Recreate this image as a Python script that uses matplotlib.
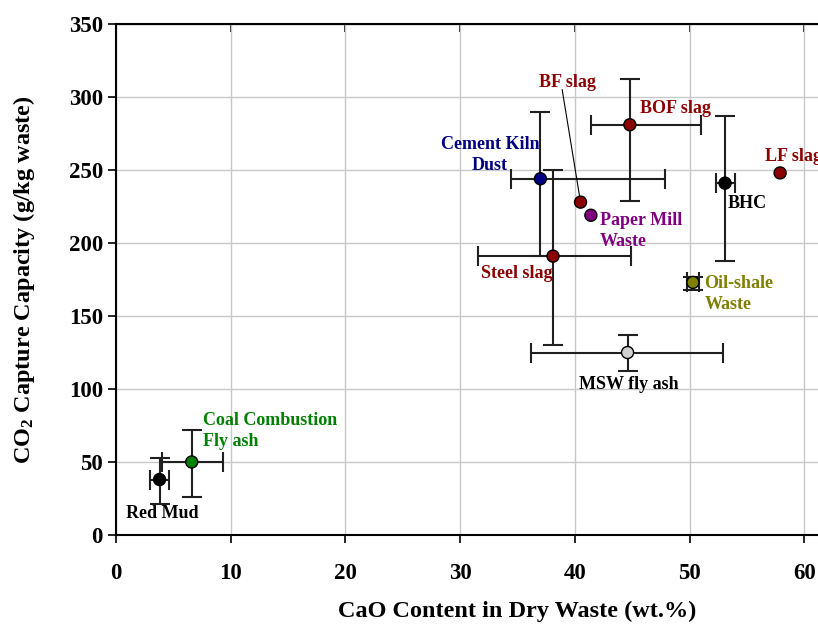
import numpy as np
import matplotlib
matplotlib.use("Agg")
import matplotlib.pyplot as plt

plt.rcParams['font.family'] = ['Liberation Serif', 'DejaVu Serif']
plt.rcParams['font.weight'] = 'bold'
plt.rcParams['mathtext.default'] = 'regular'

# ── data ─────────────────────────────────────────────────────────────────────
names = ["Red Mud", "Coal Combustion Fly ash", "Cement Kiln Dust", "Steel slag",
         "BF slag", "Paper Mill Waste", "BOF slag", "BHC", "LF slag",
         "Oil-shale Waste", "MSW fly ash"]
cao = [3.8, 6.6, 37.0, 38.1, 40.5, 41.4, 44.8, 53.1, 57.9, 50.3, 44.6]
co2 = [38, 50, 244, 191, 228, 219, 281, 241, 248, 173, 125]
xerr_lo = [0.85, 2.6, 2.6, 6.5, 0, 0, 3.4, 0.8, 0, 0.5, 8.4]
xerr_hi = [0.85, 2.7, 10.9, 6.8, 0, 0, 6.2, 0.9, 0, 0.5, 8.3]
yerr_lo = [17, 24, 53, 61, 0, 0, 52, 53, 0, 5, 13]
yerr_hi = [15, 22, 46, 59, 0, 0, 31, 46, 0, 4, 12]
face = ["#000000", "#008000", "#000080", "#8b0000", "#8b0000", "#800080",
        "#8b0000", "#000000", "#8b0000", "#808000", "#d0d0d0"]

labels = ["Red Mud", "Coal Combustion\nFly ash", "Cement Kiln\nDust", "Steel slag",
          "BF slag", "Paper Mill\nWaste", "BOF slag", "BHC", "LF slag",
          "Oil-shale\nWaste", "MSW fly ash"]
label_color = ["black", "#008000", "#000080", "#8b0000", "#8b0000", "#800080",
               "#8b0000", "black", "#8b0000", "#808000", "black"]
label_x = [4.0, 7.6, 32.6, 34.9, 39.4, 42.2, 45.7, 53.3, 56.6, 51.3, 44.7]
label_y = [15, 71, 260, 179, 310, 208, 292, 227, 259, 165, 103]
label_ha = ["center", "left", "center", "center", "center", "left", "left",
            "left", "left", "left", "center"]

fig = plt.figure(figsize=(8.18, 6.26), dpi=100)
# axes runs past the right edge of the picture (the reference is cropped there)
ax = fig.add_axes([116 / 818, 91 / 626, 70 * 11.47 / 818, 511 / 626])

ax.grid(True, color="#c8c8c8", lw=1)
ax.set_axisbelow(True)

cao = np.array(cao)
co2 = np.array(co2)
has_err = (np.array(xerr_hi) + np.array(yerr_hi)) > 0
ax.errorbar(cao[has_err], co2[has_err],
            xerr=[np.array(xerr_lo)[has_err], np.array(xerr_hi)[has_err]],
            yerr=[np.array(yerr_lo)[has_err], np.array(yerr_hi)[has_err]],
            fmt="none", ecolor="#202020", elinewidth=1.5, capsize=7, capthick=1.5,
            zorder=2)
ax.scatter(cao, co2, s=75, c=face, edgecolors="black", linewidths=1, zorder=3)

for i, lab in enumerate(labels):
    ax.text(label_x[i], label_y[i], lab, color=label_color[i], ha=label_ha[i],
            va="center", fontsize=13, fontweight="bold", linespacing=1.3, zorder=4)

# leader line for BF slag
ax.plot([38.9, cao[4]], [305, co2[4]], color="black", lw=0.8, zorder=2)

ax.set_xlim(0, 70)
ax.set_ylim(0, 350)
ax.set_xticks(np.arange(0, 70, 10))
ax.set_yticks(np.arange(0, 351, 50))
ax.tick_params(axis="both", direction="out", length=6, width=1.2, labelsize=16.5)
ax.tick_params(axis="x", pad=14)
ax.spines["right"].set_visible(False)
for s in ["left", "bottom", "top"]:
    ax.spines[s].set_linewidth(1.5)

top = ax.secondary_xaxis("top")
top.set_xticks(np.arange(0, 70, 10))
top.tick_params(direction="in", length=6, width=1.2, labeltop=False)

ax.set_xlabel("CaO Content in Dry Waste (wt.%)", fontsize=17.5, fontweight="bold",
              labelpad=12)
ax.set_ylabel("CO$_2$ Capture Capacity (g/kg waste)", fontsize=17.5,
              fontweight="bold", labelpad=23)

fig.savefig("out.png", dpi=100)
